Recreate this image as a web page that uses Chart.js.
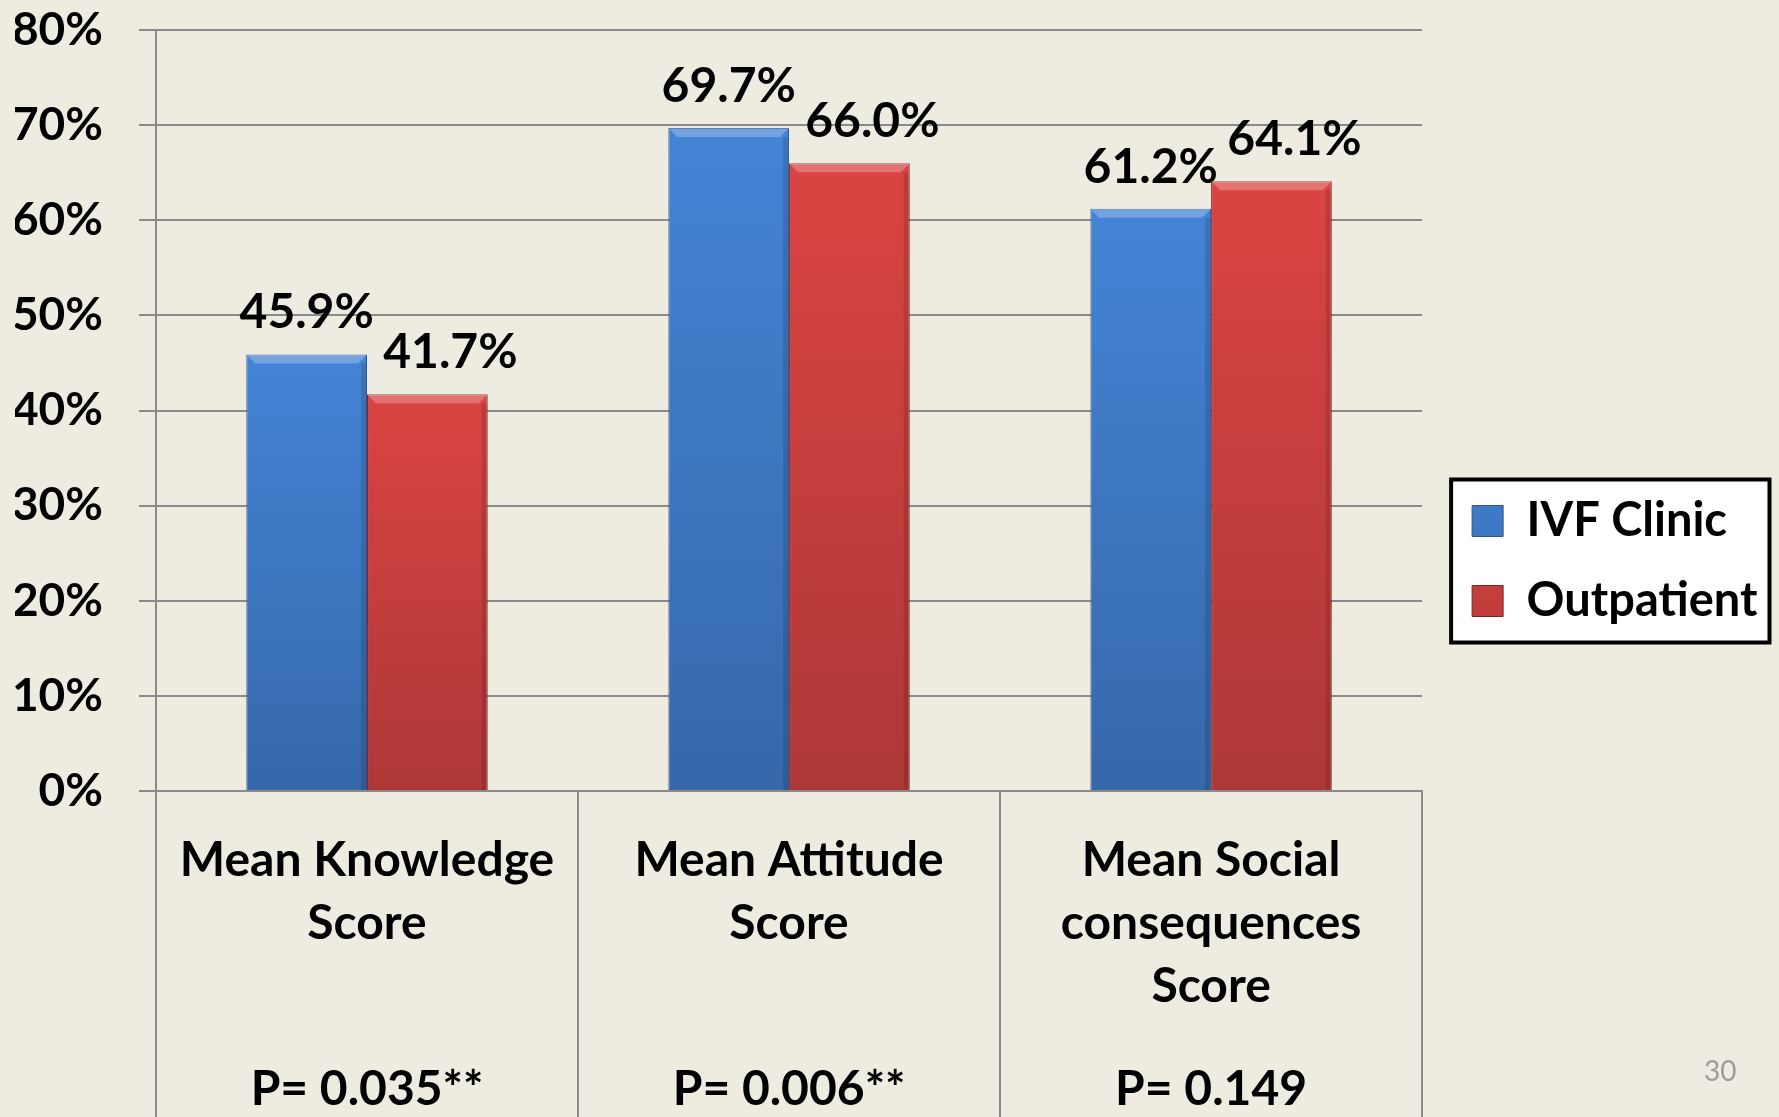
<!DOCTYPE html>
<html>
<head>
<meta charset="utf-8">
<script src="https://cdn.jsdelivr.net/npm/chart.js@4.4.1/dist/chart.umd.min.js"></script>
<style>
  html, body { margin: 0; padding: 0; background: #EEEBE0; }
  #wrap { position: relative; width: 1779px; height: 1117px; }
  #pageNo { position: absolute; left: 1704px; top: 1053px; font: 28px Lato, sans-serif; line-height: 34px; color: #9c9c9c; }
</style>
</head>
<body>
<div id="wrap">
  <canvas id="scoreChart" width="1779" height="1117"></canvas>
  <div id="pageNo">30</div>
</div>
<script>
// chart data
const categories = [['Mean Knowledge', 'Score'], ['Mean Attitude', 'Score'], ['Mean Social', 'consequences', 'Score']];
const pValues = ['P= 0.035**', 'P= 0.006**', 'P= 0.149'];
const seriesNames = ['IVF Clinic', 'Outpatient'];
const ivfClinic = [45.9, 69.7, 61.2];
const outpatient = [41.7, 66.0, 64.1];

const fontFamily = 'Lato, "Open Sans", sans-serif';
const gridGray = '#8a8a8a';

// vertical gradient per bar, light at the top and darker at the base
function barGradient(topColor, bottomColor) {
    return function (context) {
        const chart = context.chart;
        const y = chart.scales.y;
        if (!chart.chartArea || !y || context.raw === undefined) return topColor;
        const yTop = y.getPixelForValue(context.raw);
        if (!isFinite(yTop) || !isFinite(y.bottom)) return topColor;
        const g = chart.ctx.createLinearGradient(0, yTop, 0, y.bottom);
        g.addColorStop(0, topColor);
        g.addColorStop(1, bottomColor);
        return g;
    };
}

// value labels above the bars (plus a small bevel highlight)
const labelShift = [0, 23];
const barLabels = {
    id: 'barLabels',
    afterDatasetsDraw(chart) {
        const ctx = chart.ctx;
        ctx.save();
        chart.data.datasets.forEach((ds, i) => {
            chart.getDatasetMeta(i).data.forEach((bar, j) => {
                const half = bar.width / 2;
                ctx.fillStyle = 'rgba(255,255,255,0.25)';
                ctx.beginPath();
                ctx.moveTo(bar.x - half, bar.y);
                ctx.lineTo(bar.x + half, bar.y);
                ctx.lineTo(bar.x + half - 9, bar.y + 9);
                ctx.lineTo(bar.x - half + 9, bar.y + 9);
                ctx.closePath();
                ctx.fill();
                ctx.fillStyle = 'rgba(0,0,0,0.12)';
                ctx.fillRect(bar.x + half - 6, bar.y + 9, 5, bar.base - bar.y - 9);

                ctx.fillStyle = '#000';
                ctx.font = 'bold 48px ' + fontFamily;
                ctx.textAlign = 'center';
                ctx.textBaseline = 'alphabetic';
                ctx.fillText(ds.data[j].toFixed(1) + '%', bar.x + labelShift[i], bar.y - 26);
            });
        });
        ctx.restore();
    }
};

// white framed box behind the legend
const legendBox = {
    id: 'legendBox',
    beforeDraw(chart) {
        const boxes = chart.legend && chart.legend.legendHitBoxes;
        if (!boxes || !boxes.length) return;
        const left = Math.min(...boxes.map(b => b.left)) - 21;
        const right = Math.max(...boxes.map(b => b.left + b.width)) + 12;
        const last = boxes[boxes.length - 1];
        const top = boxes[0].top - 18;
        const bottom = last.top + last.height + 18;
        const ctx = chart.ctx;
        ctx.save();
        ctx.fillStyle = '#fff';
        ctx.fillRect(left, top, right - left, bottom - top);
        ctx.strokeStyle = '#000';
        ctx.lineWidth = 4;
        ctx.strokeRect(left, top, right - left, bottom - top);
        ctx.restore();
    }
};

new Chart(document.getElementById('scoreChart'), {
    type: 'bar',
    data: {
        labels: categories,
        datasets: [{
            label: seriesNames[0],
            data: ivfClinic,
            backgroundColor: barGradient('#4484d6', '#3668aa'),
            borderColor: '#2c5590',
            borderWidth: 1,
            categoryPercentage: 0.572,
            barPercentage: 1.0
        }, {
            label: seriesNames[1],
            data: outpatient,
            backgroundColor: barGradient('#da4442', '#ad3838'),
            borderColor: '#7a2626',
            borderWidth: 1,
            categoryPercentage: 0.572,
            barPercentage: 1.0
        }]
    },
    options: {
        responsive: false,
        animation: false,
        devicePixelRatio: 1,
        layout: { padding: { top: 5, left: 15, right: 11.5, bottom: 0 } },
        plugins: {
            tooltip: { enabled: false },
            legend: {
                position: 'right',
                maxWidth: 420,
                labels: {
                    color: '#000',
                    font: { family: fontFamily, size: 47, weight: 'bold' },
                    boxWidth: 31,
                    boxHeight: 31,
                    padding: 33
                }
            }
        },
        scales: {
            y: {
                min: 0,
                max: 80,
                ticks: {
                    stepSize: 10,
                    color: '#000',
                    padding: 36,
                    font: { family: fontFamily, size: 46, weight: 'bold' },
                    callback: v => v + '%'
                },
                grid: { color: gridGray, lineWidth: 2, tickLength: 17 },
                border: { color: gridGray, width: 2 },
                afterFit(scale) {
                    scale.width = 141;
                    scale.paddingTop = 30;
                    scale.paddingBottom = 0;
                }
            },
            // empty spacer between the plot and the legend
            gap: {
                type: 'linear',
                position: 'right',
                ticks: { display: false },
                grid: { display: false, drawTicks: false },
                border: { display: false },
                afterFit(scale) {
                    scale.width = 17;
                    scale.paddingTop = 0;
                    scale.paddingBottom = 0;
                }
            },
            x: {
                weight: 0,
                ticks: {
                    color: '#000',
                    padding: -287.5,
                    maxRotation: 0,
                    autoSkip: false,
                    font: { family: fontFamily, size: 48, weight: 'bold', lineHeight: 63 / 48 }
                },
                grid: { offset: true, drawOnChartArea: false, tickLength: 326, color: gridGray, lineWidth: 2 },
                border: { color: gridGray, width: 2 },
                afterFit(scale) {
                    scale.height = 227.5;
                    scale.paddingLeft = 0;
                    scale.paddingRight = 0;
                }
            },
            x2: {
                type: 'category',
                position: 'bottom',
                weight: 1,
                labels: pValues,
                offset: true,
                ticks: {
                    color: '#000',
                    padding: 44.5,
                    maxRotation: 0,
                    autoSkip: false,
                    font: { family: fontFamily, size: 48, weight: 'bold', lineHeight: 54 / 48 }
                },
                grid: { display: false, drawTicks: false },
                border: { display: false },
                afterFit(scale) {
                    scale.height = 98.5;
                    scale.paddingLeft = 0;
                    scale.paddingRight = 0;
                }
            }
        }
    },
    plugins: [legendBox, barLabels]
});
</script>
</body>
</html>
